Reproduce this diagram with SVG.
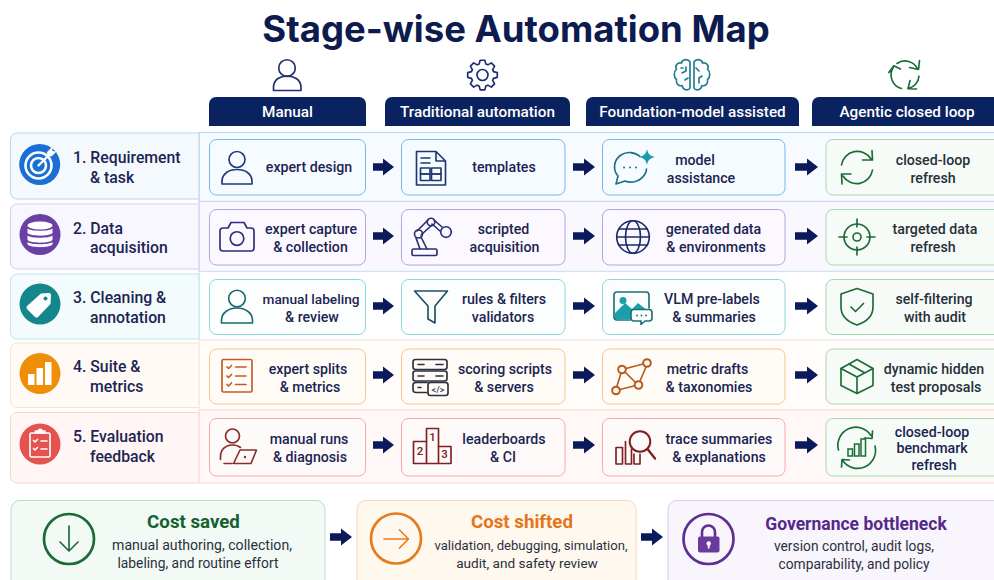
<svg xmlns="http://www.w3.org/2000/svg" width="994" height="580" viewBox="0 0 994 580">
<style>
text{font-family:"Roboto","Liberation Sans",sans-serif;fill:#1b2452;text-anchor:middle}
.title{font-family:"Inter","Liberation Sans",sans-serif;font-size:36.500px;font-weight:700;fill:#0d1b4f}
.hd{fill:#0b2260}
.ht{font-size:15.300px;font-weight:500;fill:#fff}
.rl{font-size:15.800px;font-weight:500;text-anchor:start}
.ct{font-size:14.200px;font-weight:500}
.ctn{font-size:13.700px;font-weight:500}
.g4{fill:#26303a}
.st{font-size:13.800px;font-weight:400;fill:#2b3040}
.bt{font-size:18.700px;font-weight:700}
.ic{fill:none;stroke-width:1.650;stroke-linecap:round;stroke-linejoin:round}
.w{fill:#fff;stroke:none}
.n{font-size:11.500px;font-weight:500;stroke:none}
.a{stroke:#0b1a5a;stroke-width:7.500;fill:none}
.r1{fill:#f6fbff;stroke:#76b6ee}.r2{fill:#fbf9ff;stroke:#b3a5e2}.r3{fill:#fcfefe;stroke:#8fd6dc}.r4{fill:#fffcf8;stroke:#f9c48c}.r5{fill:#fffafa;stroke:#f6aaa5}.r6{fill:#f6fbf7;stroke:#a6d9ae}
.l1{fill:#f4f9fe;stroke:#b4d7f2}.l2{fill:#f8f6fe;stroke:#d7cff0}.l3{fill:#f3fbfc;stroke:#bde6ea}.l4{fill:#fffaf5;stroke:#fbe2c8}.l5{fill:#fff6f5;stroke:#fbd5d2}
</style>
<defs>
<marker id="ah" markerUnits="userSpaceOnUse" markerWidth="11" markerHeight="18" refX="0" refY="9" orient="auto"><path d="M0 0.5L11 9L0 17.500Z" fill="#0b1a5a"/></marker>
</defs>
<rect width="994" height="580" fill="#fff"/>
<text class="title" x="516" y="42">Stage-wise Automation Map</text>

<g id="bands" stroke-width="1.200">
<rect x="199" y="132.500" width="800" height="69" fill="#f7fbff" stroke="#b4d7f2"/>
<rect x="199" y="201.500" width="800" height="70" fill="#faf8ff" stroke="#d7cff0"/>
<rect x="199" y="271.500" width="800" height="68.500" fill="#fff" stroke="#cfe3f3"/>
<rect x="199" y="340" width="800" height="70" fill="#fffcf9" stroke="#f1ece6"/>
<rect x="199" y="410" width="800" height="73" fill="#fff8f7" stroke="#fbdcd9"/>
</g>

<g id="head-manual"><path class="hd" d="M209 126V104a7 7 0 0 1 7-7H359a7 7 0 0 1 7 7V126Z"/><text class="ht" x="287.500" y="117">Manual</text>
<g class="ic" stroke="#1e2f6e"><circle cx="287" cy="68" r="8.300"/><path d="M273.500 90.500v-3c0-8 6.500-11.500 13.500-11.500s14 3.500 14 11.500v3Z"/></g></g>
<g id="head-traditional"><path class="hd" d="M385 126V104a7 7 0 0 1 7-7H563a7 7 0 0 1 7 7V126Z"/><text class="ht" x="477.500" y="117">Traditional automation</text>
<g class="ic" stroke="#1e2f6e" transform="translate(482.500 75)"><path d="M11 -3.360L14.800 -2.350L14.800 2.350L11 3.360L10.150 5.400L12.100 8.800L8.800 12.100L5.400 10.150L3.360 11L2.350 14.800L-2.350 14.800L-3.360 11L-5.400 10.150L-8.800 12.100L-12.100 8.800L-10.150 5.400L-11 3.360L-14.800 2.350L-14.800 -2.350L-11 -3.360L-10.150 -5.400L-12.100 -8.800L-8.800 -12.100L-5.400 -10.150L-3.360 -11L-2.350 -14.800L2.350 -14.800L3.360 -11L5.400 -10.150L8.800 -12.100L12.100 -8.800L10.150 -5.400Z"/><circle r="5.500"/></g></g>
<g id="head-foundation"><path class="hd" d="M586 126V104a7 7 0 0 1 7-7H792a7 7 0 0 1 7 7V126Z"/><text class="ht" x="692.500" y="117">Foundation-model assisted</text>
<g class="ic" stroke="#1f7d8e" stroke-width="1.500"><path d="M690 62C688 58.500 682.500 59 681.500 63C677.500 62 674.500 66 676.500 69C673.500 72 673.500 77 676.500 79.500C675.500 83.500 678.500 86.500 682 85.500C683 90.500 688.500 91 690 88Z"/><path d="M694 62C696 58.500 701.500 59 702.500 63C706.500 62 709.500 66 707.500 69C710.500 72 710.500 77 707.500 79.500C708.500 83.500 705.500 86.500 702 85.500C701 90.500 695.500 91 694 88Z"/><path d="M682 73l4-2v-4M685 80l3-2M699 71l-3-3M702 76l-3 2v5M681 68h2"/></g></g>
<g id="head-agentic"><path class="hd" d="M812 126V104a7 7 0 0 1 7-7H999V126Z"/><text class="ht" x="907" y="117">Agentic closed loop</text>
<g class="ic" stroke="#1a6b35"><path d="M897 63.500A14 14 0 0 1 917.700 69.100M919.500 60.500L918.500 69.500L909.500 67.500"/><path d="M919 76.200A14 14 0 0 1 908.600 88.500M916.500 89L908 88.800L910 80.500"/><path d="M901.400 88.500A14 14 0 0 1 893.500 67M888.800 72.500L893.800 65.800L900.500 69"/></g></g>

<g id="row1-label"><path class="l1" d="M199 133H17a6.500 6.500 0 0 0-6.500 6.500V192.500a6.500 6.500 0 0 0 6.500 6.500H199Z"/>
<circle cx="39.700" cy="164.500" r="20.500" fill="#1a6fd4"/>
<g fill="none" stroke="#fff" stroke-linecap="round"><circle cx="38.500" cy="165.500" r="13" stroke-width="2.600"/><circle cx="38.500" cy="165.500" r="7.500" stroke-width="2.600"/><path d="M38.500 165.500L51 153" stroke-width="2.400"/></g><path class="w" d="M47 152l5-5 .5 4 4 .5-5 5-4-.5Z"/>
<text class="rl" x="73" y="163">1. Requirement</text><text class="rl" x="90" y="183">&amp; task</text></g>
<g id="row2-label"><path class="l2" d="M199 204H17a6.500 6.500 0 0 0-6.500 6.500V262.500a6.500 6.500 0 0 0 6.500 6.500H199Z"/>
<circle cx="40" cy="234.500" r="20.500" fill="#6a40a4"/>
<g class="w"><ellipse cx="40" cy="225.500" rx="12.500" ry="4"/><path d="M27.500 228.500c3 3 22 3 25 0v4.500c-3 3.500-22 3.500-25 0Z"/><path d="M27.500 235.500c3 3 22 3 25 0v4.500c-3 3.500-22 3.500-25 0Z"/><path d="M27.500 242c3 3 22 3 25 0v2.500c-3 3.500-22 3.500-25 0Z"/></g>
<text class="rl" x="73" y="234">2. Data</text><text class="rl" x="90" y="253">acquisition</text></g>
<g id="row3-label"><path class="l3" d="M199 274H17a6.500 6.500 0 0 0-6.500 6.500V332.500a6.500 6.500 0 0 0 6.500 6.500H199Z"/>
<circle cx="40" cy="304" r="20.500" fill="#14878d"/>
<path class="w" d="M41 293.500L49 293Q51 293 51 295L50.500 304L38 317Q36.500 318 35 317L27 309Q26 307.500 27 306Z"/><circle cx="45.500" cy="298.500" r="2" fill="#14878d"/>
<text class="rl" x="73" y="303">3. Cleaning &amp;</text><text class="rl" x="90" y="323">annotation</text></g>
<g id="row4-label"><path class="l4" d="M199 343H17a6.500 6.500 0 0 0-6.500 6.500V401a6.500 6.500 0 0 0 6.500 6.500H199Z"/>
<circle cx="40" cy="373.500" r="20.500" fill="#ef8f07"/>
<g class="w"><rect x="28" y="374" width="6.500" height="11"/><rect x="36.500" y="368" width="6.500" height="17"/><rect x="45" y="362" width="6.500" height="23"/></g>
<text class="rl" x="73" y="372">4. Suite &amp;</text><text class="rl" x="90" y="392">metrics</text></g>
<g id="row5-label"><path class="l5" d="M199 412.500H17a6.500 6.500 0 0 0-6.500 6.500V476.500a6.500 6.500 0 0 0 6.500 6.500H199Z"/>
<circle cx="40" cy="444" r="20.500" fill="#e5534f"/>
<g class="ic" stroke="#fff" stroke-width="1.800"><rect x="30" y="433" width="20" height="24" rx="1.500"/><path d="M35.500 433v-2h3a1.700 1.700 0 0 1 3.400 0h3v2Z" fill="#fff"/><path d="M33.500 440.500l1.500 1.500 2.500-2.500M41 441h6M33.500 448.500l1.500 1.500 2.500-2.500M41 449h6"/></g>
<text class="rl" x="73" y="442">5. Evaluation</text><text class="rl" x="90" y="462">feedback</text></g>

<g id="c1r1"><rect class="r1" x="209.500" y="139.500" width="156" height="55.500" rx="7"/>
<g class="ic" stroke="#1e3a78"><circle cx="237" cy="159.500" r="8"/><path d="M222 184v-2.500c0-8 7-12 15-12s15 4 15 12v2.500Z"/></g><text class="ct" x="309" y="172">expert design</text></g>
<g id="c1r2"><rect class="r2" x="209.500" y="209.500" width="156" height="55.500" rx="7"/>
<g class="ic" stroke="#35287a"><path d="M223 228H228L231 222.500H244L247 228H251Q254 228 254 231V248Q254 251 251 251H223Q220 251 220 248V231Q220 228 223 228Z"/><circle cx="237" cy="238.500" r="6.800"/></g><text class="ct" x="311" y="234">expert capture</text><text class="ct" x="310.500" y="252">&amp; collection</text></g>
<g id="c1r3"><rect class="r3" x="209.500" y="279.500" width="156" height="55" rx="7"/>
<g class="ic" stroke="#1c6870"><circle cx="237" cy="298.500" r="8.300"/><path d="M221.500 323v-2.500c0-8 7.500-12.500 15.500-12.500s15.500 4.500 15.500 12.500v2.500Z"/></g><text class="ctn" x="311" y="304">manual labeling</text><text class="ct" x="312" y="322">&amp; review</text></g>
<g id="c1r4"><rect class="r4" x="209.500" y="349" width="156" height="55" rx="7"/>
<g class="ic" stroke="#c55a1f"><rect x="222" y="359.500" width="30" height="32.500" rx="1.500"/><path d="M227 367l1.500 1.500 3-3M235.500 367H246M227 376l1.500 1.500 3-3M235.500 376H246M227 384.500l1.500 1.500 3-3M235.500 384.500H246"/></g><text class="ct" x="308" y="374">expert splits</text><text class="ct" x="310" y="392">&amp; metrics</text></g>
<g id="c1r5"><rect class="r5" x="209.500" y="418.500" width="156" height="57.500" rx="7"/>
<g class="ic" stroke="#8c2c2c"><circle cx="232.500" cy="436" r="7"/><path d="M220.500 459.500v-3c0-7 5-11.500 12-11.500 3 0 6 .8 8 2.500"/><path d="M240 450H256.500L251 463.500H233.500ZM232 463.500H224"/></g><circle cx="245" cy="457" r="1.200" fill="#8c2c2c"/><text class="ct" x="309" y="444">manual runs</text><text class="ct" x="310" y="462">&amp; diagnosis</text></g>

<g id="c2r1"><rect class="r1" x="401.500" y="139.500" width="163.500" height="55.500" rx="7"/>
<g class="ic" stroke="#1d3772"><path d="M416.500 151.500H436L445.500 161V185H416.500ZM436 151.500V161H445.500M421 158h9M421 163h9"/><rect x="420.500" y="168" width="9.500" height="6"/><rect x="420.500" y="174" width="9.500" height="6.500"/><rect x="431.500" y="168" width="9.500" height="6"/><rect x="431.500" y="174" width="9.500" height="6.500"/></g><text class="ct" x="504" y="172">templates</text></g>
<g id="c2r2"><rect class="r2" x="401.500" y="209.500" width="163.500" height="55.500" rx="7"/>
<g class="ic" stroke="#2a2f70"><rect x="412" y="249" width="25" height="6.500" rx="1.500"/><path d="M417 231L428 220M421 235L432 225M434 220L442 227M432 224L440 231M416 238L420 249M421 237L427 249"/><circle cx="418.500" cy="234" r="4"/><circle cx="431" cy="222" r="3.800"/><circle cx="446" cy="232" r="5.300"/></g><text class="ct" x="503.500" y="234">scripted</text><text class="ct" x="504.500" y="252">acquisition</text></g>
<g id="c2r3"><rect class="r3" x="401.500" y="279.500" width="163.500" height="55" rx="7"/>
<g class="ic" stroke="#1d4f66"><path d="M414.500 291H447.500L435 306V323L428 319V306Z"/></g><text class="ct" x="504" y="304">rules &amp; filters</text><text class="ct" x="503" y="322">validators</text></g>
<g id="c2r4"><rect class="r4" x="401.500" y="349" width="163.500" height="55" rx="7"/>
<g class="ic" stroke="#2b2f3e" stroke-width="1.400"><rect x="413" y="359.500" width="34" height="10" rx="2.500"/><rect x="413" y="371" width="34" height="10" rx="2.500"/><path d="M427 392.500H416Q413 392.500 413 389.500V385Q413 382.500 416 382.500H427"/><rect x="428" y="382.500" width="20" height="13" rx="2.500" fill="#fffcf8"/><path d="M418 364.500h6M436 364.500h7M418 376h6M436 376h7M418 387.500h3"/></g><text x="438" y="392.500" font-size="9" font-weight="500" style="fill:#2b2f3e">&lt;/&gt;</text><text class="ct" x="505" y="374">scoring scripts</text><text class="ct" x="504" y="392">&amp; servers</text></g>
<g id="c2r5"><rect class="r5" x="401.500" y="418.500" width="163.500" height="57.500" rx="7"/>
<g class="ic" stroke="#7c2222"><path d="M413.500 463.500V441.500H426.500V428.500H438.500V446.500H451V463.500Z"/><path d="M426.500 441.500V463.500M438.500 446.500V463.500"/></g><text class="n" x="432.500" y="441" style="fill:#7c2222">1</text><text class="n" x="420" y="455" style="fill:#7c2222">2</text><text class="n" x="444.500" y="458" style="fill:#7c2222">3</text><text class="ct" x="504" y="444">leaderboards</text><text class="ct" x="503" y="462">&amp; CI</text></g>

<g id="c3r1"><rect class="r1" x="602.500" y="139.500" width="182.500" height="55.500" rx="7"/>
<g class="ic" stroke="#1f6f85"><path d="M640 156.500C635 152 627 151 621 155C613.500 160 612.500 170 618 176L616 184L625 181C632 184 641 181 645 174C646 172.500 646.500 171 646.500 169"/></g><g fill="#1f6f85"><circle cx="624" cy="167.500" r="1"/><circle cx="630" cy="167.500" r="1"/><circle cx="636" cy="167.500" r="1"/></g><path d="M647 149C648 154 650 156 655 157C650 158 648 160 647 165C646 160 644 158 639 157C644 156 646 154 647 149Z" fill="#1a9aa8"/><text class="ct" x="695" y="165">model</text><text class="ct" x="701" y="183">assistance</text></g>
<g id="c3r2"><rect class="r2" x="602.500" y="209.500" width="182.500" height="55.500" rx="7"/>
<g class="ic" stroke="#1b2a66"><circle cx="633" cy="237" r="16.300"/><ellipse cx="633" cy="237" rx="7.500" ry="16.300"/><path d="M616.700 237H649.300M619 229H647M619 245H647"/></g><text class="ct" x="713.500" y="234">generated data</text><text class="ct" x="716" y="252">&amp; environments</text></g>
<g id="c3r3"><rect class="r3" x="602.500" y="279.500" width="182.500" height="55" rx="7"/>
<g class="ic" stroke="#1c6f78"><path d="M630 320H617Q614 320 614 317V295Q614 292 617 292H646Q649 292 649 295V308"/></g><path d="M615 319V313L625 303L632 309L638 303L648 311V314H636Q631 314 631 319Z" fill="#1aa0a8"/><circle cx="623" cy="300.500" r="3.500" fill="#1aa0a8"/>
<g class="ic" stroke="#1c6f78" stroke-width="1.500"><path d="M634 309.500H649Q652 309.500 652 312.500V318Q652 321 649 321H645L641 324.500V321H634Q631 321 631 318V312.500Q631 309.500 634 309.500Z" fill="#fcfefe"/></g><g fill="#1c6f78"><circle cx="637" cy="315.500" r=".9"/><circle cx="641.500" cy="315.500" r=".9"/><circle cx="646" cy="315.500" r=".9"/></g><text class="ct" x="712" y="304">VLM pre-labels</text><text class="ct" x="714" y="322">&amp; summaries</text></g>
<g id="c3r4"><rect class="r4" x="602.500" y="349" width="182.500" height="55" rx="7"/>
<g class="ic" stroke="#b85a1c" stroke-width="1.500"><path d="M626 368.500L643 364M625 372L635 382M621 373L617 386M620 389.500L634 386M640 381L646 367"/><circle cx="622" cy="369.500" r="3.800" stroke-width="2"/><circle cx="647" cy="363" r="3.800" stroke-width="2"/><circle cx="638.500" cy="385" r="3.800" stroke-width="2"/><circle cx="616" cy="390.500" r="3.800" stroke-width="2"/></g><text class="ct" x="707.500" y="374">metric drafts</text><text class="ct" x="709" y="392">&amp; taxonomies</text></g>
<g id="c3r5"><rect class="r5" x="602.500" y="418.500" width="182.500" height="57.500" rx="7"/>
<g class="ic" stroke="#7c2222"><rect x="616" y="447.500" width="6.500" height="16.500"/><path d="M625.500 441.500V464H631.500V449M634 454V464H640V454"/><circle cx="640" cy="441.500" r="10.300" stroke-width="2"/><path d="M647.500 449L655 458.500" stroke-width="2.400"/></g><text class="ct" x="719" y="444">trace summaries</text><text class="ct" x="719" y="462">&amp; explanations</text></g>

<g id="c4r1"><path class="r6" d="M999 139.500H833a7 7 0 0 0-7 7V188a7 7 0 0 0 7 7H999Z"/>
<g class="ic" stroke="#1a6b35" stroke-width="2"><path d="M841.500 165A16 16 0 0 1 871 159M872 150.500L872.500 160L862.500 160"/><path d="M872.500 170A16 16 0 0 1 843 176M842 184L841.500 174L851 174"/></g><text class="ct g4" x="933" y="165">closed-loop</text><text class="ct g4" x="933" y="183">refresh</text></g>
<g id="c4r2"><path class="r6" d="M999 209.500H833a7 7 0 0 0-7 7V258a7 7 0 0 0 7 7H999Z"/>
<g class="ic" stroke="#1a6b35" stroke-width="2"><circle cx="857" cy="237" r="13"/><circle cx="857" cy="237" r="4"/><path d="M857 219V227M857 247V255M839 237H847M867 237H875"/></g><text class="ct g4" x="935" y="234">targeted data</text><text class="ct g4" x="933" y="252">refresh</text></g>
<g id="c4r3"><path class="r6" d="M999 279.500H833a7 7 0 0 0-7 7V327.500a7 7 0 0 0 7 7H999Z"/>
<g class="ic" stroke="#1a6b35" stroke-width="1.900"><path d="M857 288.500L873 294V307C873 316 866 322 857 325C848 322 841 316 841 307V294Z"/><path d="M851 307L855.500 311.500L863.500 303.500"/></g><text class="ct g4" x="934" y="304">self-filtering</text><text class="ct g4" x="935" y="322">with audit</text></g>
<g id="c4r4"><path class="r6" d="M999 349H833a7 7 0 0 0-7 7V397a7 7 0 0 0 7 7H999Z"/>
<g class="ic" stroke="#1a6b35" stroke-width="1.900"><path d="M857 359.500L873 368.500V385.500L857 393.500L841 385.500V368.500Z"/><path d="M841 368.500L857 377L873 368.500M857 377V393.500M849 364L865 373"/></g><text class="ct g4" x="934" y="374">dynamic hidden</text><text class="ct g4" x="936" y="392">test proposals</text></g>
<g id="c4r5"><path class="r6" d="M999 418.500H833a7 7 0 0 0-7 7V469a7 7 0 0 0 7 7H999Z"/>
<g class="ic" stroke="#1a6b35" stroke-width="1.900"><path d="M838.500 450A18 18 0 0 1 871 435.500M872.500 431L872 438.500L864.500 438"/><path d="M875 446A18 18 0 0 1 843 461M841.500 467L842 459.500L849.500 460"/></g><g fill="none" stroke="#1a6b35" stroke-width="1.500"><rect x="848" y="449" width="4.500" height="7"/><rect x="854.500" y="444" width="4.500" height="12"/><rect x="861" y="439" width="4.500" height="17"/></g><text class="ct" x="932" y="437">closed-loop</text><text class="ct" x="932" y="453">benchmark</text><text class="ct" x="934" y="470">refresh</text></g>

<g id="connectors">
<path class="a" marker-end="url(#ah)" d="M373 167H383"/><path class="a" marker-end="url(#ah)" d="M573 167H584"/><path class="a" marker-end="url(#ah)" d="M795 167H807"/>
<path class="a" marker-end="url(#ah)" d="M373 236H383"/><path class="a" marker-end="url(#ah)" d="M573 236H584"/><path class="a" marker-end="url(#ah)" d="M795 236H807"/>
<path class="a" marker-end="url(#ah)" d="M373 306H383"/><path class="a" marker-end="url(#ah)" d="M573 306H584"/><path class="a" marker-end="url(#ah)" d="M795 306H807"/>
<path class="a" marker-end="url(#ah)" d="M373 375H383"/><path class="a" marker-end="url(#ah)" d="M573 375H584"/><path class="a" marker-end="url(#ah)" d="M795 375H807"/>
<path class="a" marker-end="url(#ah)" d="M373 445H383"/><path class="a" marker-end="url(#ah)" d="M573 445H584"/><path class="a" marker-end="url(#ah)" d="M795 445H807"/>
<path class="a" marker-end="url(#ah)" d="M330 537H341"/><path class="a" marker-end="url(#ah)" d="M641 537H652"/>
</g>

<g id="cost-saved"><rect x="11" y="500.500" width="314" height="90" rx="9" fill="#f3faf5" stroke="#b6e0c4"/>
<circle cx="69" cy="539" r="25" fill="none" stroke="#1a6b35" stroke-width="2.700"/><g class="ic" stroke="#1a6b35" stroke-width="3"><path d="M69 526V550M60 542L69 551L78 542"/></g>
<text class="bt" x="193.500" y="528" style="fill:#14602f">Cost saved</text><text class="st" x="202" y="550" font-size="14" style="font-size:14.100px">manual authoring, collection,</text><text class="st" x="198" y="568">labeling, and routine effort</text></g>
<g id="cost-shifted"><rect x="357" y="500.500" width="279" height="90" rx="9" fill="#fff8ef" stroke="#fad7ae"/>
<circle cx="396" cy="538.500" r="25" fill="none" stroke="#e87b1c" stroke-width="2.700"/><g class="ic" stroke="#e87b1c" stroke-width="3"><path d="M384 539H408M399.500 530L408.500 539L399.500 548"/></g>
<text class="bt" x="522" y="528" style="fill:#e5751a">Cost shifted</text><text class="st" x="531" y="550" style="font-size:13.100px">validation, debugging, simulation,</text><text class="st" x="527" y="568" style="font-size:13.600px">audit, and safety review</text></g>
<g id="governance"><rect x="668" y="500.500" width="340" height="90" rx="9" fill="#f8f5fd" stroke="#d8c9f0"/>
<circle cx="708.500" cy="539" r="25" fill="none" stroke="#5e2f90" stroke-width="2.700"/>
<path d="M702 537V532a6.500 6.500 0 0 1 13 0V537" fill="none" stroke="#5e2f90" stroke-width="2.600"/><rect x="698" y="536.500" width="21.500" height="16" rx="2" fill="#6a3a9e"/><circle cx="708.700" cy="543.500" r="2.200" fill="#fff"/><rect x="707.800" y="544" width="1.800" height="4.500" fill="#fff"/>
<text class="bt" x="856" y="530" style="fill:#55298a;font-size:17.500px">Governance bottleneck</text><text class="st" x="854" y="551">version control, audit logs,</text><text class="st" x="854" y="569">comparability, and policy</text></g>
</svg>
